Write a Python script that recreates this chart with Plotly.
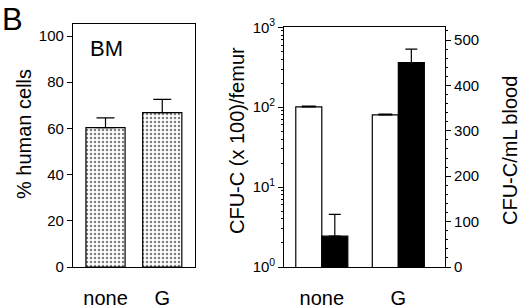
import plotly.graph_objects as go

W, H = 520, 308

# ---- data ----
groups = ["none", "G"]
pct_human = [60.3, 66.8]
pct_human_err = [4.3, 5.8]
cfu_femur = [101, 80]          # CFU-C (x100)/femur, log axis
cfu_femur_err = [2, 2]
cfu_blood = [68, 450]          # CFU-C/mL blood, right axis
cfu_blood_err = [48, 30]

log_tickvals = [1, 10, 100, 1000]
log_ticktext = ["10<sup>0</sup>", "10<sup>1</sup>", "10<sup>2</sup>", "10<sup>3</sup>"]
log_minor = [m * d for d in (1, 10, 100) for m in range(2, 10)]

FONT = "Liberation Sans, Arial, Helvetica, sans-serif"

def px(x):
    return x / W

def py(y):
    return 1 - y / H

fig = go.Figure()

# left panel
fig.add_trace(go.Bar(
    x=groups, y=pct_human, width=0.69,
    marker=dict(color="white", line=dict(color="black", width=1.2),
                pattern=dict(shape=".", fgcolor="black", bgcolor="white", size=4, solidity=0.3)),
    error_y=dict(type="data", array=pct_human_err, arrayminus=[0, 0], symmetric=False,
                 color="black", thickness=1.2, width=9),
    xaxis="x", yaxis="y", showlegend=False,
))

# right panel
bw = 0.34
fig.add_trace(go.Bar(
    x=groups, y=cfu_femur, width=bw, offset=-bw,
    marker=dict(color="white", line=dict(color="black", width=1.2)),
    error_y=dict(type="data", array=cfu_femur_err, arrayminus=[0, 0], symmetric=False,
                 color="black", thickness=1.2, width=7),
    xaxis="x2", yaxis="y2", showlegend=False,
))
fig.add_trace(go.Bar(
    x=groups, y=cfu_blood, width=bw, offset=0,
    marker=dict(color="black", line=dict(color="black", width=1.2)),
    error_y=dict(type="data", array=cfu_blood_err, arrayminus=[0, 0], symmetric=False,
                 color="black", thickness=1.2, width=6),
    xaxis="x2", yaxis="y3", showlegend=False,
))

ydom = [py(267), py(24)]
ydom2 = [py(267), py(27.3)]

axis_common = dict(showline=True, linecolor="black", linewidth=1.2, showgrid=False,
                   zeroline=False, automargin=False,
                   tickfont=dict(family=FONT, size=15, color="black"))
axis_nofont = {k: v for k, v in axis_common.items() if k != "tickfont"}
xfont = dict(family=FONT, size=20, color="black")

fig.update_layout(
    width=W, height=H, margin=dict(l=0, r=0, t=0, b=0),
    paper_bgcolor="white", plot_bgcolor="white",
    barmode="overlay",
    font=dict(family=FONT, color="black"),
    xaxis=dict(domain=[px(73), px(195)], anchor="y", type="category",
               range=[-0.573, 1.577], mirror=True, ticks="",
               ticklabelstandoff=13, tickfont=xfont, **axis_nofont),
    yaxis=dict(domain=ydom, anchor="x", range=[0, 105.2], tickvals=[0, 20, 40, 60, 80, 100],
               ticks="outside", ticklen=5, tickcolor="black", mirror=True, **axis_common),
    xaxis2=dict(domain=[px(284.3), px(445)], anchor="y2", type="category",
                range=[-0.49, 1.61], mirror=True, ticks="",
                ticklabelstandoff=13, tickfont=xfont, **axis_nofont),
    yaxis2=dict(domain=ydom2, anchor="x2", type="log", range=[0, 3],
                tickvals=log_tickvals, ticktext=log_ticktext,
                ticks="outside", ticklen=5, tickcolor="black", mirror=True,
                minor=dict(tickvals=log_minor, ticks="outside", ticklen=2, tickcolor="black", showgrid=False),
                **axis_common),
    yaxis3=dict(anchor="x2", overlaying="y2", side="right", range=[0, 528],
                tickvals=[0, 100, 200, 300, 400, 500],
                ticks="outside", ticklen=5, tickcolor="black",
                minor=dict(dtick=20, ticks="outside", ticklen=2, tickcolor="black", showgrid=False),
                **axis_common),
)

ann = [
    dict(text="BM", x=px(106.5), y=py(48), size=22),
    dict(text="% human cells", x=px(24), y=py(134), size=20, angle=-90),
    dict(text="CFU-C (x 100)/femur", x=px(236.5), y=py(140.5), size=20, angle=-90),
    dict(text="CFU-C/mL blood", x=px(510), y=py(151), size=20, angle=-90),
]
for a in ann:
    fig.add_annotation(text=a["text"], x=a["x"], y=a["y"], xref="paper", yref="paper",
                       xanchor="center", yanchor="middle", showarrow=False,
                       textangle=a.get("angle", 0),
                       font=dict(family=FONT, size=a["size"], color="black"))
fig.add_annotation(text="B", x=0, y=1, xref="paper", yref="paper",
                   xanchor="left", yanchor="top", showarrow=False,
                   font=dict(family=FONT, size=31, color="black"))

fig.write_html("out.html", config={"displayModeBar": False},
               post_script="document.body.style.margin='0';document.body.style.overflow='hidden';")
